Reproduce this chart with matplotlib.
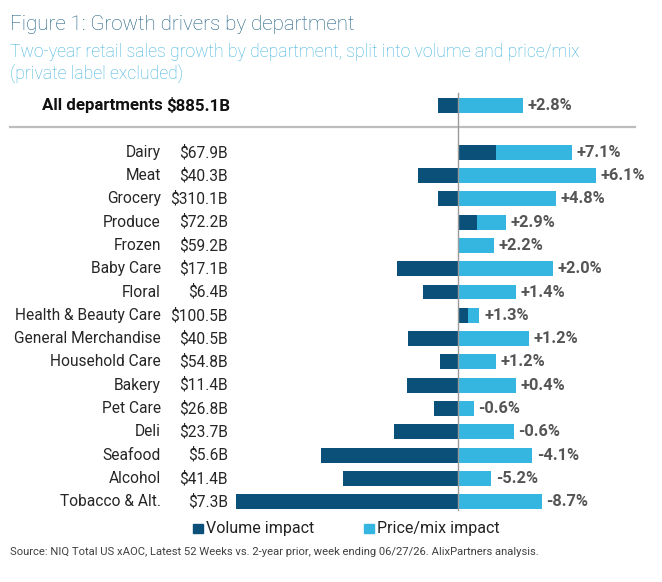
import matplotlib
matplotlib.use('Agg')
import matplotlib.pyplot as plt
from matplotlib.patches import Rectangle

# ---------------- data ----------------
categories = ['Dairy', 'Meat', 'Grocery', 'Produce', 'Frozen', 'Baby Care', 'Floral',
              'Health & Beauty Care', 'General Merchandise', 'Household Care', 'Bakery',
              'Pet Care', 'Deli', 'Seafood', 'Alcohol', 'Tobacco & Alt.']
sales = ['$67.9B', '$40.3B', '$310.1B', '$72.2B', '$59.2B', '$17.1B', '$6.4B', '$100.5B',
         '$40.5B', '$54.8B', '$11.4B', '$26.8B', '$23.7B', '$5.6B', '$41.4B', '$7.3B']
volume = [2.35, -2.5, -1.27, 1.15, 0.0, -3.85, -2.2, 0.62, -3.15, -1.15, -3.2, -1.55,
          -4.0, -8.6, -7.2, -13.9]
price = [4.75, 8.6, 6.1, 1.8, 2.2, 5.9, 3.6, 0.7, 4.4, 2.35, 3.6, 0.95, 3.45, 4.6, 2.05, 5.2]
totals = ['+7.1%', '+6.1%', '+4.8%', '+2.9%', '+2.2%', '+2.0%', '+1.4%', '+1.3%', '+1.2%',
          '+1.2%', '+0.4%', '-0.6%', '-0.6%', '-4.1%', '-5.2%', '-8.7%']
all_label = 'All departments'
all_sales = '$885.1B'
all_volume = -1.26
all_price = 4.04
all_total = '+2.8%'

title = 'Figure 1: Growth drivers by department'
subtitle = 'Two-year retail sales growth by department, split into volume and price/mix\n(private label excluded)'
legend_labels = ['Volume impact', 'Price/mix impact']
source = ('Source: NIQ Total US xAOC, Latest 52 Weeks vs. 2-year prior, week ending 06/27/26. '
          'AlixPartners analysis.')

# ---------------- style ----------------
DARK = '#0b5079'
LIGHT = '#35b6e0'
FONT = ['Roboto', 'DejaVu Sans']
plt.rcParams['font.family'] = FONT

W, H = 662, 582
ZERO_PX, PX_PER_PCT = 458.3, 16.0
ROW0_PX, ROW_PX = 152.3, 23.29


def xd(px):
    return (px - ZERO_PX) / PX_PER_PCT


def yd(py):
    return (py - ROW0_PX) / ROW_PX


fig = plt.figure(figsize=(W / 100, H / 100), dpi=100)
fig.patch.set_facecolor('white')
ax = fig.add_axes([0, 0, 1, 1])
ax.set_xlim(xd(0), xd(W))
ax.set_ylim(yd(H), yd(0))
ax.axis('off')

bar_h = 0.64
ys = list(range(len(categories)))
all_y = -2

# bars
vol_all = [all_volume] + volume
price_all = [all_price] + price
y_all = [all_y] + ys
lefts = [max(v, 0) for v in vol_all]
ax.barh(y_all, vol_all, height=bar_h, color=DARK, zorder=2)
ax.barh(y_all, price_all, left=lefts, height=bar_h, color=LIGHT, zorder=2)

# zero line and separator
ax.plot([0, 0], [yd(93), yd(510)], color='#9a9a9a', lw=1.0, zorder=3)
ax.plot([xd(10), xd(635)], [yd(127), yd(127)], color='#bdbdbd', lw=1.6, zorder=1)

# labels
for y, name, s, v, p, t in zip(ys, categories, sales, volume, price, totals):
    ax.text(xd(161), y, name, ha='right', va='center', fontsize=11.2, color='#262626')
    ax.text(xd(228), y, s, ha='right', va='center', fontsize=11.2, color='#262626')
    ax.text(max(v, 0) + p + 0.3, y, t, ha='left', va='center', fontsize=11.8,
            fontweight='bold', color='#555555')

ax.text(xd(163), all_y, all_label, ha='right', va='center', fontsize=12.2,
        fontweight='bold', color='#111111')
ax.text(xd(230), all_y, all_sales, ha='right', va='center', fontsize=12.2,
        fontweight='bold', color='#111111')
ax.text(max(all_volume, 0) + all_price + 0.3, all_y, all_total, ha='left', va='center',
        fontsize=11.8, fontweight='bold', color='#555555')

# title & subtitle
fig.text(10 / W, 1 - 30 / H, title, ha='left', va='baseline', fontsize=14.8,
         color='#1d5f80', fontweight='light')
fig.text(10 / W, 1 - 79 / H, subtitle, ha='left', va='baseline', fontsize=12.7,
         color='#3db2dc', fontweight='light', linespacing=1.25)

# legend
for (x0, lab, col) in [(193, legend_labels[0], DARK), (364, legend_labels[1], LIGHT)]:
    fig.patches.append(Rectangle((x0 / W, 1 - 533 / H), 9.5 / W, 9.5 / H,
                                 transform=fig.transFigure, color=col, figure=fig))
    fig.text((x0 + 13) / W, 1 - 528.5 / H, lab, ha='left', va='center', fontsize=11.5,
             color='#222222')

# source
fig.text(10 / W, 1 - 555 / H, source, ha='left', va='baseline', fontsize=8.15,
         color='#404040')

fig.savefig('out.png', dpi=100, facecolor='white')
